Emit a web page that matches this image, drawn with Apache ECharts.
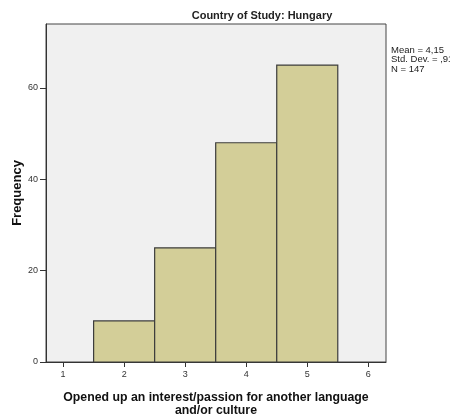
<!DOCTYPE html>
<html><head><meta charset="utf-8">
<script src="https://cdn.jsdelivr.net/npm/echarts@6/dist/echarts.min.js"></script>
<style>html,body{margin:0;padding:0;background:#fff}#c{width:450px;height:419px}</style>
</head><body><div id="c"></div>
<script>
const binCenters = [2, 3, 4, 5];
const frequencies = [9, 25, 48, 65];
const binWidth = 1;
const xTickValues = [1, 2, 3, 4, 5, 6];
const yTickValues = [0, 20, 40, 60];
const titleText = 'Country of Study: Hungary';
const xAxisName = 'Opened up an interest/passion for another language\nand/or culture';
const yAxisName = 'Frequency';
const statsLines = ['Mean = 4,15', 'Std. Dev. = ,91', 'N = 147'];

const chart = echarts.init(document.getElementById('c'), null, {renderer: 'canvas'});
const data = binCenters.map((c, i) => [c - binWidth / 2, c + binWidth / 2, frequencies[i]]);
const font = 'Liberation Sans, Arial, sans-serif';
chart.setOption({
  animation: false,
  backgroundColor: '#fff',
  title: {
    text: titleText, left: 257, top: 5, textAlign: 'center',
    textStyle: {fontFamily: font, fontSize: 11, fontWeight: 'bold', color: '#222'}
  },
  graphic: [{
    type: 'text', left: 391, top: 45,
    style: {text: statsLines.join('\n'), font: '9.5px ' + font, fill: '#222', lineHeight: 9.8}
  }],
  grid: {left: 46, right: 64, top: 24, bottom: 57, outerBoundsMode: 'none', containLabel: false,
    show: true, backgroundColor: '#f0f0f0', borderColor: '#444', borderWidth: 1},
  xAxis: {
    type: 'value', min: 0.72, max: 6.29,
    name: xAxisName, nameLocation: 'middle', nameGap: 29, nameMoveOverlap: false,
    nameTextStyle: {fontFamily: font, fontSize: 12.3, fontWeight: 'bold', color: '#111', lineHeight: 13},
    axisLine: {show: true, lineStyle: {color: '#333'}},
    axisTick: {show: true, inside: false, length: 5, customValues: xTickValues, lineStyle: {color: '#333'}},
    axisLabel: {customValues: xTickValues, fontFamily: font, fontSize: 9, color: '#333', margin: 8},
    splitLine: {show: false}
  },
  yAxis: {
    type: 'value', min: 0, max: 74,
    name: yAxisName, nameLocation: 'middle', nameGap: 22, nameRotate: 90, nameMoveOverlap: false,
    nameTextStyle: {fontFamily: font, fontSize: 13, fontWeight: 'bold', color: '#111'},
    axisLine: {show: true, lineStyle: {color: '#333'}},
    axisTick: {show: true, inside: false, length: 6, customValues: yTickValues, lineStyle: {color: '#333'}},
    axisLabel: {customValues: yTickValues, fontFamily: font, fontSize: 9, color: '#333', margin: 8},
    splitLine: {show: false}
  },
  series: [{
    type: 'custom',
    data: data,
    encode: {x: [0, 1], y: 2},
    renderItem: function (params, api) {
      const p0 = api.coord([api.value(0), api.value(2)]);
      const p1 = api.coord([api.value(1), 0]);
      return {
        type: 'rect',
        shape: {x: p0[0], y: p0[1], width: p1[0] - p0[0], height: p1[1] - p0[1]},
        style: {fill: '#d3ce98', stroke: '#3c3c3c', lineWidth: 1.2}
      };
    }
  }]
});
</script></body></html>
